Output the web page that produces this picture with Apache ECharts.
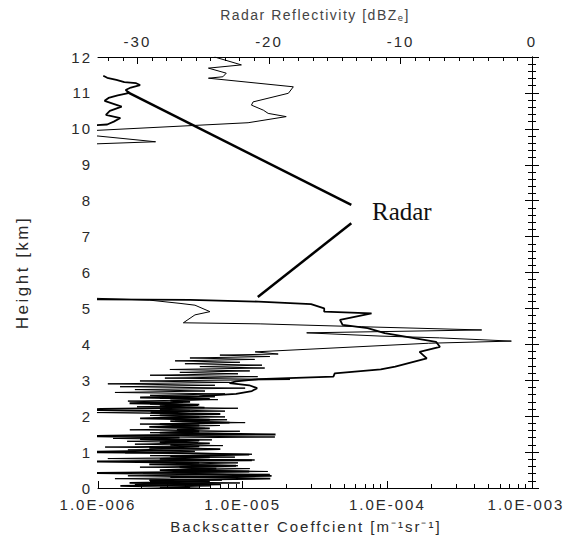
<!DOCTYPE html>
<html><head><meta charset="utf-8">
<script src="https://cdn.jsdelivr.net/npm/echarts@6/dist/echarts.min.js"></script>
<style>
html,body{margin:0;padding:0;background:#fff}
#c{width:565px;height:539px}
#c text{letter-spacing:2px}
#c text[style*="14px"]{letter-spacing:1.5px}
#c text[style*="17px"]{letter-spacing:2.5px}
#c text[style*="Serif"]{letter-spacing:0}
</style>
</head><body><div id="c"></div>
<script>
// ---- data ----
const heightTicks = [0,1,2,3,4,5,6,7,8,9,10,11,12];
const backscatterTicks = [1e-6,1e-5,1e-4,1e-3];
const dbzTicks = [-30,-20,-10,0];

// Radar reflectivity profile (thick line): height km / dBZe
const radarHeight = [11.48,11.42,11.36,11.3,11.27,11.22,11.15,11.08,11.0,10.93,10.86,10.78,10.62,10.5,10.39,10.3,10.2,10.12,10.05,5.3,5.26,5.24,5.19,5.12,5.0,4.91,4.86,4.68,4.54,4.45,4.31,4.07,3.93,3.79,3.61,3.38,3.3,3.19,3.1,
  3.03,2.97,2.92,2.86,2.78,2.70,2.62,2.56,2.52,2.48,2.44,2.40,2.36,2.32,2.28,2.24,2.20,2.17,2.14,2.10,2.06,2.02,1.98,1.94,1.90,1.86,1.82,1.78,1.74,1.70,1.66,1.62,1.58,1.54,1.49,1.46,1.44,1.40,1.36,1.32,1.28,1.24,1.20,1.16,1.12,1.08,1.04,1.00,0.97,0.93,0.89,0.85,0.81,0.77,0.74,0.70,0.66,0.62,0.58,0.54,0.50,0.46,0.42,0.38,0.34,0.30,0.26,0.22,0.18,0.14,0.10,0.06,0.02,0.0];
const radarDbz = [-32.6,-32.3,-31.6,-31,-30.1,-29.8,-30.5,-30.9,-30.6,-31.5,-32.2,-32.5,-31.2,-32.1,-32.4,-31.3,-31.8,-32.3,-36,-36,-36,-26,-20.8,-16.8,-15.8,-15.8,-12.2,-14.6,-14.4,-12.5,-11.2,-7.3,-7.0,-8.55,-8.0,-10.4,-11.5,-15.0,-15.1,
  -20.8,-22.5,-23,-21.5,-20.9,-21.3,-22.5,-25.3,-29.8,-24.5,-27.5,-26.0,-30.6,-25.3,-28.3,-24.9,-32.8,-34,-26,-29,-23.7,-28.3,-25.3,-29.8,-24.5,-27.5,-23.0,-28.3,-25.3,-29.1,-24.5,-27,-25.3,-28.3,-19.5,-32,-34,-26.8,-29.8,-25.3,-28.3,-24.5,-27.5,-25.3,-29.1,-23.7,-28.3,-34.5,-26.0,-21.5,-27.5,-24.5,-28.3,-21.3,-34,-25.3,-29.1,-22.5,-26.8,-24.0,-28.3,-21.5,-34,-25.3,-19.8,-27.5,-19.9,-29.1,-24.5,-30.6,-23.7,-31.3,-26.0,-28.3];

// Lidar backscatter profile (thin line): height km / m^-1 sr^-1
const lidarHeight = [12.0,11.78,11.69,11.55,11.45,11.41,11.17,10.99,10.75,10.66,10.52,10.43,10.34,10.17,9.95,9.85,9.8,9.64,9.57,9.5,5.3,5.28,5.23,5.14,5.09,4.91,4.82,4.6,4.57,4.49,4.4,4.32,4.23,4.18,4.09,4.03,3.79,3.73,
  3.70,3.66,3.62,3.58,3.54,3.50,3.46,3.42,3.38,3.34,3.30,3.26,3.22,3.18,3.14,3.10,3.06,3.02,2.98,2.94,2.90,2.86,2.82,2.78,2.74,2.70,2.66,2.62,2.58,2.54,2.50,2.46,2.42,2.38,2.34,2.30,2.26,2.22,2.18,2.14,2.10,2.06,2.02,1.98,1.94,1.90,1.86,1.82,1.78,1.74,1.70,1.66,1.62,1.58,1.54,1.50,1.46,1.42,1.38,1.34,1.30,1.26,1.22,1.18,1.14,1.10,1.06,1.02,0.98,0.94,0.90,0.86,0.82,0.78,0.74,0.70,0.66,0.62,0.58,0.54,0.50,0.46,0.42,0.38,0.34,0.30,0.26,0.22,0.18,0.14,0.10,0.06,0.02,0.00];
const lidarBackscatter = [6.4e-6,9.8e-6,5.8e-6,7.7e-6,7.3e-6,5.8e-6,2.24e-5,2.07e-5,1.18e-5,1.15e-5,1.39e-5,1.5e-5,2.0e-5,1.09e-5,9e-7,5e-7,1e-6,2.5e-6,8e-7,5e-7,5e-7,1e-6,2.28e-6,3.69e-6,4.68e-6,5.94e-6,4.68e-6,3.89e-6,1.32e-5,6.64e-5,4.49e-4,2.77e-5,8.9e-5,2.3e-4,7.2e-4,1.92e-4,1.22e-5,1.76e-5,
  6.96e-6,1.54e-5,4.32e-6,1.21e-5,3.41e-6,9.57e-6,3.99e-6,1.36e-5,5.06e-6,1.42e-5,3.14e-6,1.12e-5,3.68e-6,9.28e-6,2.29e-6,1.27e-5,2.90e-6,2.12e-5,1.95e-6,8.16e-6,1.17e-6,6.43e-6,1.42e-6,1.04e-5,1.80e-6,5.49e-6,1.31e-6,7.55e-6,2.29e-6,6.43e-6,2.68e-6,6.74e-6,1.61e-6,3.86e-6,2.29e-6,4.91e-6,1.86e-6,9.28e-6,2.68e-6,7.55e-6,9.8e-7,4.91e-6,2.29e-6,7.55e-6,2.40e-6,7.80e-6,3.41e-6,1.04e-5,1.95e-6,6.96e-6,2.68e-6,5.49e-6,1.66e-6,9.57e-6,2.29e-6,6.43e-6,1.21e-6,1.67e-5,1.27e-6,6.13e-6,1.59e-6,4.91e-6,1.80e-6,7.30e-6,1.12e-6,5.23e-6,1.61e-6,4.67e-6,1.54e-6,1.16e-5,2.29e-6,8.84e-6,1.17e-6,1.21e-5,1.42e-6,9.28e-6,3.57e-6,9.28e-6,1.95e-6,1.12e-5,3.99e-6,1.49e-5,2.05e-6,1.54e-5,1.61e-6,7.92e-6,1.31e-6,7.19e-6,2.29e-6,9.57e-6,1.80e-6,5.94e-6,2.68e-6,5.06e-6];

// Annotation pointer ends (dBZe, height km)
const pointerUpper = [[-30.8,11.03],[-13.74,7.88]];
const pointerLower = [[-13.74,7.37],[-20.85,5.32]];

// ---- build ----
const pair = (hs, vs) => hs.slice(0, Math.min(hs.length, vs.length)).map((h,i)=>[vs[i],h]);
const radarData = pair(radarHeight, radarDbz);
const lidarData = pair(lidarHeight, lidarBackscatter);
const logMinor = [];
for (let e=-6;e<-3;e++) for (let k=2;k<=9;k++) logMinor.push(e+Math.log10(k));
const dbzMinor = [];
for (let m=-40;m<0;m+=10) for (let k=1;k<=8;k++){const v=m+k*10/9; if(v>=-33&&v<=0) dbzMinor.push(v);}

const FONT = '"Liberation Sans", Arial, Helvetica, sans-serif';
const TC = '#2a2a2a';
const tick = {color:TC, fontFamily:FONT, fontSize:15};
const line = {show:true, lineStyle:{color:'#000', width:1}};

function fmtE(v){
  const e = Math.round(Math.log10(v));
  const s = '1.0E' + (e<0?'-':'+') + String(Math.abs(e)).padStart(3,'0');
  return e === -3 ? '{r|' + s + '}' : s;
}

const chart = echarts.init(document.getElementById('c'), null, {renderer:'svg'});
chart.setOption({
  animation:false,
  backgroundColor:'#fff',
  grid:{left:98, right:33, top:57, bottom:51, containLabel:false},
  xAxis:[
    {type:'log', logBase:10, position:'bottom', min:backscatterTicks[0], max:backscatterTicks[3],
     axisLine:line, splitLine:{show:false},
     axisTick:{show:true, inside:true, length:7, lineStyle:{color:'#000'}},
     axisLabel:Object.assign({formatter:fmtE, margin:9, showMinLabel:true, showMaxLabel:true,
       rich:{r:{padding:[0,12,0,0], color:TC, fontFamily:FONT, fontSize:15}}}, tick),
     name:'Backscatter Coeffcient [m\u207B\u00B9sr\u207B\u00B9]', nameLocation:'middle', nameGap:31,
     nameTextStyle:{color:TC, fontFamily:FONT, fontSize:15, padding:[0,18,0,0]}},
    {type:'value', position:'bottom', min:-6, max:-3,
     axisLine:{show:false}, splitLine:{show:false}, axisLabel:{show:false},
     axisTick:{show:true, inside:true, length:4, customValues:logMinor, lineStyle:{color:'#000'}}},
    {type:'value', position:'top', min:-33, max:0,
     axisLine:line, splitLine:{show:false},
     axisTick:{show:true, inside:true, length:7, customValues:dbzTicks, lineStyle:{color:'#000'}},
     axisLabel:Object.assign({customValues:dbzTicks, margin:8}, tick),
     name:'Radar Reflectivity [dBZ\u2091]', nameLocation:'middle', nameGap:35,
     nameTextStyle:{color:'#444', fontFamily:FONT, fontSize:14}},
    {type:'value', position:'top', min:-33, max:0,
     axisLine:{show:false}, splitLine:{show:false}, axisLabel:{show:false},
     axisTick:{show:true, inside:true, length:4, customValues:dbzMinor, lineStyle:{color:'#000'}}}
  ],
  yAxis:[
    {type:'value', position:'left', min:heightTicks[0], max:heightTicks[heightTicks.length-1], interval:1,
     axisLine:line, splitLine:{show:false},
     axisTick:{show:true, inside:true, length:7, lineStyle:{color:'#000'}},
     minorTick:{show:true, splitNumber:5, length:4, lineStyle:{color:'#000'}},
     axisLabel:Object.assign({margin:6, formatter:v=>String(v)}, tick),
     name:'Height [km]', nameLocation:'middle', nameGap:67, nameRotate:90,
     nameTextStyle:{color:TC, fontFamily:FONT, fontSize:17}},
    {type:'value', position:'right', min:0, max:12, interval:1,
     axisLine:line, splitLine:{show:false}, axisLabel:{show:false},
     axisTick:{show:true, inside:true, length:7, lineStyle:{color:'#000'}},
     minorTick:{show:true, splitNumber:5, length:4, lineStyle:{color:'#000'}}}
  ],
  series:[
    {name:'Lidar', type:'line', xAxisIndex:0, yAxisIndex:0, data:lidarData,
     showSymbol:false, symbol:'none', clip:true,
     lineStyle:{color:'#000', width:1}},
    {name:'Radar', type:'line', xAxisIndex:2, yAxisIndex:0, data:radarData,
     showSymbol:false, symbol:'none', clip:true,
     lineStyle:{color:'#000', width:1.8},
     markLine:{silent:true, symbol:'none', label:{show:false},
       lineStyle:{color:'#000', width:2.5, type:'solid'},
       data:[[{coord:pointerUpper[0]},{coord:pointerUpper[1]}],
             [{coord:pointerLower[0]},{coord:pointerLower[1]}]]}}
  ],
  graphic:[
    {type:'text', left:372, top:199, style:{text:'Radar', fill:'#111', font:'25px "Liberation Serif", "Times New Roman", serif'}}
  ]
});
</script>
</body></html>
